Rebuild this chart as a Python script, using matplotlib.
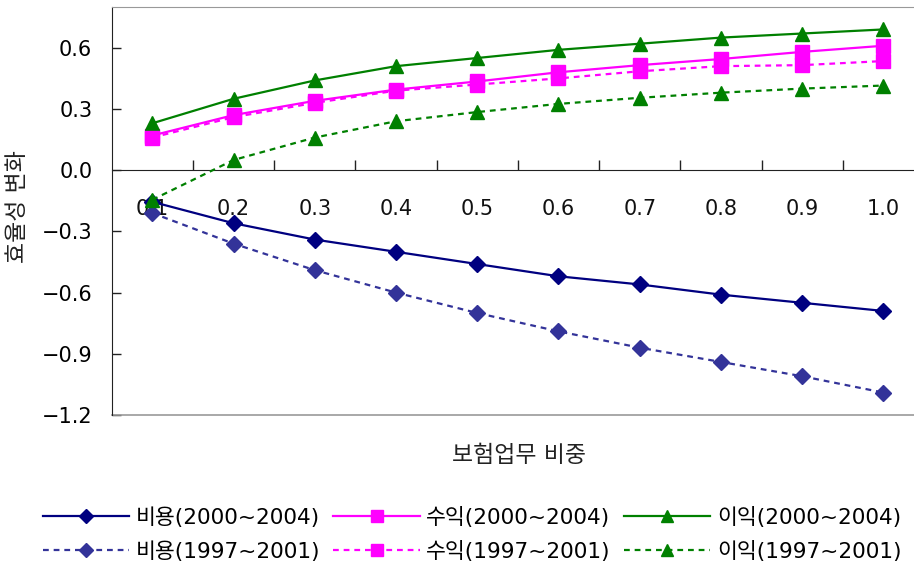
import matplotlib
matplotlib.use("Agg")
import matplotlib.pyplot as plt
from matplotlib.lines import Line2D

plt.rcParams['font.family'] = ['DejaVu Sans', 'Noto Sans CJK KR']

# 보험업무 비중 (share of insurance business)
categories = ['0.1', '0.2', '0.3', '0.4', '0.5', '0.6', '0.7', '0.8', '0.9', '1.0']

# 효율성 변화 by series
cost_0004 = [-0.155, -0.26, -0.34, -0.40, -0.46, -0.52, -0.56, -0.61, -0.65, -0.69]
rev_0004 = [0.17, 0.27, 0.34, 0.395, 0.435, 0.48, 0.515, 0.545, 0.58, 0.61]
prof_0004 = [0.23, 0.35, 0.44, 0.51, 0.55, 0.59, 0.62, 0.65, 0.67, 0.69]
cost_9701 = [-0.21, -0.36, -0.49, -0.60, -0.70, -0.79, -0.87, -0.94, -1.01, -1.09]
rev_9701 = [0.16, 0.26, 0.33, 0.39, 0.42, 0.45, 0.485, 0.51, 0.515, 0.535]
prof_9701 = [-0.145, 0.05, 0.16, 0.24, 0.285, 0.325, 0.355, 0.38, 0.40, 0.415]

labels = ['비용(2000~2004)', '수익(2000~2004)', '이익(2000~2004)',
          '비용(1997~2001)', '수익(1997~2001)', '이익(1997~2001)']
yticks = [-1.2, -0.9, -0.6, -0.3, 0.0, 0.3, 0.6]

W, H = 914, 566
fig = plt.figure(figsize=(W / 100, H / 100), dpi=100)
left_px, right_px, top_px, bottom_px = 111.7, 924, 7, 415
ax = fig.add_axes([left_px / W, 1 - bottom_px / H,
                   (right_px - left_px) / W, (bottom_px - top_px) / H])

x = list(range(len(categories)))
dash = (0, (2.6, 2.2))
styles = [
    (cost_0004, dict(color='#000080', ls='-', marker='D', ms=7.8)),
    (rev_0004, dict(color='#FF00FF', ls='-', marker='s', ms=10)),
    (prof_0004, dict(color='#008000', ls='-', marker='^', ms=10)),
    (cost_9701, dict(color='#333399', ls=dash, marker='D', ms=7.8)),
    (rev_9701, dict(color='#FF00FF', ls=dash, marker='s', ms=10)),
    (prof_9701, dict(color='#008000', ls=dash, marker='^', ms=10)),
]
handles = []
for (vals, st), lab in zip(styles, labels):
    h, = ax.plot(x, vals, lw=1.6, mec=st['color'], mfc=st['color'],
                 label=lab, clip_on=False, zorder=3, **st)
    handles.append(h)

ax.set_xlim(-0.5, len(categories) - 0.5)
ax.set_ylim(-1.2, 0.8)

# y axis
ax.set_yticks(yticks)
ax.set_yticklabels([f'{v:.1f}'.replace('-', '\u2212') for v in yticks])
ax.tick_params(axis='y', direction='in', length=6.5, width=1, pad=14,
               labelsize=15, color='#222222')

# category axis drawn through zero
ax.spines['bottom'].set_position(('data', 0))
ax.spines['bottom'].set_color('#222222')
ax.spines['bottom'].set_zorder(2)
ax.set_xticks([i + 0.5 for i in x[:-1]])
ax.set_xticklabels([])
ax.tick_params(axis='x', direction='in', length=7.5, width=1, color='#222222')
for i, lab in zip(x, categories):
    ax.annotate(lab, (i, 0), xytext=(0, -32.4), textcoords='offset points',
                ha='center', va='baseline', fontsize=15, color='#111111',
                zorder=2)

ax.spines['left'].set_color('#222222')
ax.spines['top'].set_color('#999999')
ax.spines['right'].set_visible(False)
ax.add_line(Line2D([0, 1], [0, 0], transform=ax.transAxes, color='#999999',
                   lw=1.2, clip_on=False))

fig.text(519 / W, 1 - 455 / H, '보험업무 비중', ha='center', va='center',
         fontsize=16.5, color='#222222')
fig.text(18 / W, 1 - 207 / H, '효율성 변화', ha='center', va='center',
         rotation=90, fontsize=16.5, color='#222222')

order = [0, 3, 1, 4, 2, 5]
fig.legend([handles[i] for i in order], [labels[i] for i in order],
           loc='center', bbox_to_anchor=(472 / W, 1 - 534.5 / H), ncol=3,
           frameon=False, fontsize=15.6, handlelength=4.0, handletextpad=0.3,
           columnspacing=0.6, labelspacing=0.6, borderpad=0, markerscale=0.9)

fig.savefig('out.png', dpi=100)
